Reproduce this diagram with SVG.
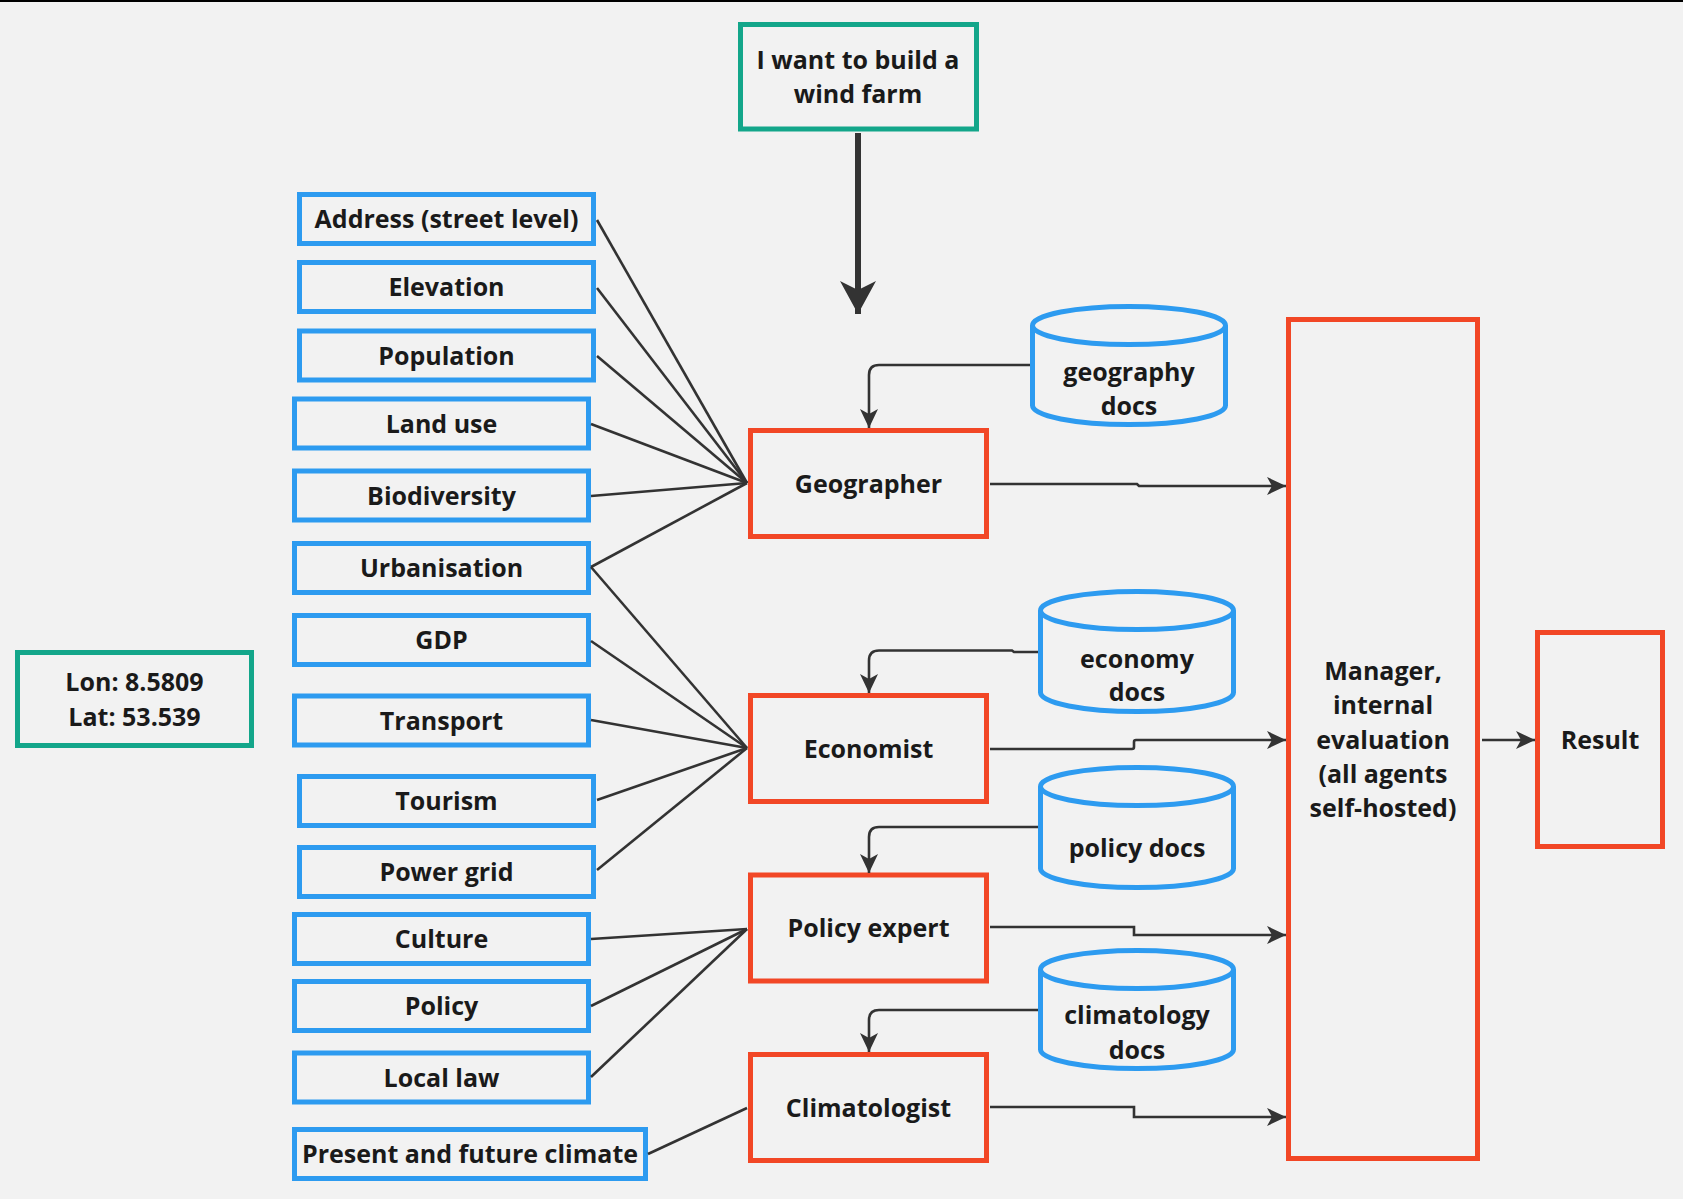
<svg xmlns="http://www.w3.org/2000/svg" width="1683" height="1199" viewBox="0 0 1683 1199">
<defs>
<style>
.bg{fill:#f2f2f2}
.in rect{fill:none;stroke:#2d9bf0;stroke-width:5}
.ag rect{fill:none;stroke:#f24726;stroke-width:5}
.tl rect{fill:none;stroke:#13a68a;stroke-width:5}
.db path,.db ellipse{fill:#f2f2f2;stroke:#2d9bf0;stroke-width:5}
text{font-family:"Open Sans","Liberation Sans",sans-serif;font-weight:700;font-size:25px;fill:#1a1a1a;text-anchor:middle}
.ln line{stroke:#333;stroke-width:2.6;fill:none}
.ar path{stroke:#333;stroke-width:2.6;fill:none;marker-end:url(#ah)}
</style>
<marker id="ah" markerUnits="userSpaceOnUse" markerWidth="20" markerHeight="18" refX="19" refY="9" orient="auto" viewBox="0 0 20 18">
<path d="M0,0 L19,9 L0,18 L5,9 Z" fill="#333"/>
</marker>
<marker id="big" markerUnits="userSpaceOnUse" markerWidth="36" markerHeight="36" refX="33" refY="18" orient="auto" viewBox="0 0 36 36">
<path d="M0,0 L33,18 L0,36 L9,18 Z" fill="#333"/>
</marker>
</defs>
<rect class="bg" x="0" y="0" width="1683" height="1199"/>
<rect x="0" y="0" width="1683" height="2" fill="#000"/>

<g id="start" class="tl"><rect x="740.5" y="24.5" width="236" height="104.5"/><text x="858" y="69">I want to build a</text><text x="858" y="103">wind farm</text></g>
<g id="lonlat" class="tl"><rect x="17.5" y="652.5" width="234" height="93"/><text x="134.5" y="691">Lon: 8.5809</text><text x="134.5" y="726">Lat: 53.539</text></g>

<g id="in-address" class="in"><rect x="299.5" y="194.5" width="294" height="49"/><text x="446.5" y="228">Address (street level)</text></g>
<g id="in-elevation" class="in"><rect x="299.5" y="262.5" width="294" height="49"/><text x="446.5" y="296">Elevation</text></g>
<g id="in-population" class="in"><rect x="299.5" y="331" width="294" height="49"/><text x="446.5" y="365">Population</text></g>
<g id="in-landuse" class="in"><rect x="294.5" y="399" width="294" height="49"/><text x="441.5" y="432.5">Land use</text></g>
<g id="in-biodiversity" class="in"><rect x="294.5" y="471" width="294" height="49"/><text x="441.5" y="504.5">Biodiversity</text></g>
<g id="in-urbanisation" class="in"><rect x="294.5" y="543.5" width="294" height="49"/><text x="441.5" y="577">Urbanisation</text></g>
<g id="in-gdp" class="in"><rect x="294.5" y="615.5" width="294" height="49"/><text x="441.5" y="649">GDP</text></g>
<g id="in-transport" class="in"><rect x="294.5" y="696" width="294" height="49"/><text x="441.5" y="729.5">Transport</text></g>
<g id="in-tourism" class="in"><rect x="299.5" y="776.5" width="294" height="49"/><text x="446.5" y="810">Tourism</text></g>
<g id="in-powergrid" class="in"><rect x="299.5" y="847.5" width="294" height="49"/><text x="446.5" y="881">Power grid</text></g>
<g id="in-culture" class="in"><rect x="294.5" y="914.5" width="294" height="49"/><text x="441.5" y="948">Culture</text></g>
<g id="in-policy" class="in"><rect x="294.5" y="981.5" width="294" height="49"/><text x="441.5" y="1015">Policy</text></g>
<g id="in-locallaw" class="in"><rect x="294.5" y="1053" width="294" height="49"/><text x="441.5" y="1086.5">Local law</text></g>
<g id="in-climate" class="in"><rect x="294.5" y="1129.5" width="351" height="49"/><text x="470" y="1163">Present and future climate</text></g>

<g id="geographer" class="ag"><rect x="750.5" y="430.5" width="236" height="106"/><text x="868.5" y="493">Geographer</text></g>
<g id="economist" class="ag"><rect x="750.5" y="695.5" width="236" height="106"/><text x="868.5" y="758">Economist</text></g>
<g id="policyexpert" class="ag"><rect x="750.5" y="875" width="236" height="106"/><text x="868.5" y="937">Policy expert</text></g>
<g id="climatologist" class="ag"><rect x="750.5" y="1054.5" width="236" height="106"/><text x="868.5" y="1117">Climatologist</text></g>
<g id="manager" class="ag"><rect x="1288.5" y="319.5" width="189" height="839"/><text x="1383" y="680">Manager,</text><text x="1383" y="714">internal</text><text x="1383" y="749">evaluation</text><text x="1383" y="783">(all agents</text><text x="1383" y="817">self-hosted)</text></g>
<g id="result" class="ag"><rect x="1537.5" y="632.5" width="125" height="214"/><text x="1600" y="749">Result</text></g>

<g id="db-geography" class="db"><path d="M1032.5,325.5 V405.5 A96.5,19 0 0 0 1225.5,405.5 V325.5"/><ellipse cx="1129" cy="325.5" rx="96.5" ry="19"/><text x="1129" y="381">geography</text><text x="1129" y="415">docs</text></g>
<g id="db-economy" class="db"><path d="M1040.5,610.5 V692.5 A96.5,19 0 0 0 1233.5,692.5 V610.5"/><ellipse cx="1137" cy="610.5" rx="96.5" ry="19"/><text x="1137" y="668">economy</text><text x="1137" y="701">docs</text></g>
<g id="db-policy" class="db"><path d="M1040.5,786.5 V868.5 A96.5,19 0 0 0 1233.5,868.5 V786.5"/><ellipse cx="1137" cy="786.5" rx="96.5" ry="19"/><text x="1137" y="857">policy docs</text></g>
<g id="db-climatology" class="db"><path d="M1040.5,969.5 V1049.5 A96.5,19 0 0 0 1233.5,1049.5 V969.5"/><ellipse cx="1137" cy="969.5" rx="96.5" ry="19"/><text x="1137" y="1024">climatology</text><text x="1137" y="1059">docs</text></g>

<g id="connectors">
<g class="ln">
<line x1="597" y1="220" x2="747" y2="483"/>
<line x1="597" y1="288" x2="747" y2="483"/>
<line x1="597" y1="356" x2="747" y2="483"/>
<line x1="591" y1="424" x2="747" y2="483"/>
<line x1="591" y1="496" x2="747" y2="483"/>
<line x1="591" y1="567" x2="747" y2="483"/>
<line x1="591" y1="567" x2="747" y2="748"/>
<line x1="591" y1="641" x2="747" y2="748"/>
<line x1="591" y1="720" x2="747" y2="748"/>
<line x1="597" y1="800" x2="747" y2="748"/>
<line x1="597" y1="870" x2="747" y2="748"/>
<line x1="591" y1="939" x2="747" y2="929"/>
<line x1="591" y1="1006" x2="747" y2="929"/>
<line x1="591" y1="1077" x2="747" y2="929"/>
<line x1="648" y1="1154" x2="747" y2="1108"/>
</g>
<path d="M858,133 V314" stroke="#333" stroke-width="6" fill="none" marker-end="url(#big)"/>
<g class="ar">
<path d="M1030,365 H879 Q869,365 869,375 V428"/>
<path d="M1038,652 H1014 L1012,650.5 H879 Q869,650.5 869,660.5 V693"/>
<path d="M1038,827 H879 Q869,827 869,837 V873"/>
<path d="M1038,1010 H879 Q869,1010 869,1020 V1052"/>
<path d="M990,484 H1137 L1139,486 H1286"/>
<path d="M990,749 H1132 Q1134,749 1134,747 V742 Q1134,740 1136,740 H1286"/>
<path d="M990,927 H1134 V935 H1286"/>
<path d="M990,1107 H1134 V1117 H1286"/>
<path d="M1482,740 H1535"/>
</g>
</g>
</svg>
